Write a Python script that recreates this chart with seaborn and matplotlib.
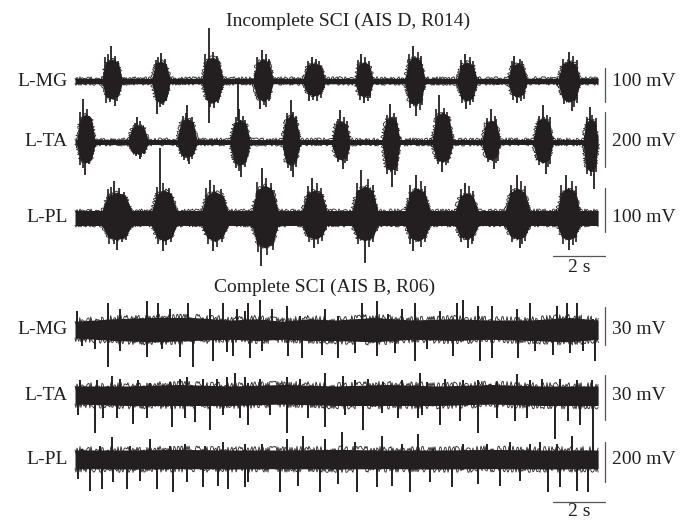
"""
EMG traces during stepping: incomplete vs complete SCI.
Values read off the published figure (time in s, amplitude in mV).
"""

import numpy as np
import pandas as pd
import matplotlib
matplotlib.use("Agg")
import matplotlib.pyplot as plt
import seaborn as sns

T_END = 20.12

# ---------------- Incomplete SCI (AIS D, R014) ----------------
# bursts: onset, offset, body amplitude above / below baseline
MG1_ON  = [1.04, 2.96, 4.88, 6.85, 8.77, 10.77, 12.69, 14.69, 16.65, 18.58]
MG1_OFF = [1.81, 3.65, 5.69, 7.62, 9.62, 11.46, 13.46, 15.46, 17.38, 19.42]
MG1_UP  = [65, 59, 71, 65, 53, 56, 71, 56, 53, 59]
MG1_DN  = [53, 65, 65, 59, 44, 47, 71, 59, 47, 62]
MG1_BASE = 8
# tallest spikes
MG1_SPK_T = [1.40, 1.55, 3.30, 3.14, 5.15, 5.15, 6.27, 7.20, 7.10, 9.10, 9.00,
             11.00, 11.10, 13.00, 13.10, 15.00, 15.05, 16.90, 17.00, 19.00, 19.10]
MG1_SPK_V = [103, -74, 82, -97, 156, -124, -118, 91, -82, 70, -59,
             79, -65, 103, -103, 79, -82, 74, -65, 85, -88]
# smaller spikes inside the bursts
MG1_FINE_T = [1.15, 1.25, 1.55, 1.65, 1.20, 1.35, 1.60,
              3.10, 3.20, 3.45, 3.25, 3.40, 3.50,
              5.00, 5.30, 5.45, 5.20, 5.35, 5.50,
              7.00, 7.35, 7.45, 7.25, 7.35, 7.45,
              8.95, 9.25, 9.40, 9.15, 9.30, 9.45,
              10.90, 11.15, 11.30, 10.95, 11.25, 11.35,
              12.85, 13.20, 13.30, 12.90, 13.25, 13.35,
              14.85, 15.20, 15.30, 14.90, 15.20, 15.30,
              16.80, 17.10, 17.20, 16.85, 17.15, 17.25,
              18.75, 19.15, 19.30, 18.80, 19.20, 19.30]
MG1_FINE_V = [70, 80, 75, 60, -65, -62, -60,
              62, 70, 65, -75, -70, -60,
              80, 85, 75, -75, -80, -65,
              70, 78, 65, -70, -75, -60,
              60, 65, 58, -55, -60, -50,
              62, 70, 60, -55, -58, -50,
              78, 85, 75, -80, -85, -70,
              62, 70, 60, -65, -70, -62,
              60, 66, 58, -55, -58, -52,
              65, 75, 62, -68, -75, -65]

TA1_ON  = [0.07, 2.04, 3.92, 5.96, 7.96, 9.88, 11.81, 13.73, 15.65, 17.62, 19.54]
TA1_OFF = [0.77, 2.81, 4.69, 6.73, 8.65, 10.58, 12.50, 14.54, 16.35, 18.38, 20.12]
TA1_UP  = [102, 62, 87, 80, 98, 76, 91, 109, 80, 87, 84]
TA1_DN  = [76, 44, 55, 84, 84, 65, 105, 73, 65, 76, 109]
TA1_BASE = 9
TA1_SPK_T = [0.30, 0.40, 2.40, 2.50, 4.30, 4.40, 6.30, 6.40, 8.30, 8.40, 10.20,
             10.30, 12.10, 12.20, 14.00, 14.10, 16.00, 16.10, 18.00, 18.10, 19.80, 19.95]
TA1_SPK_V = [156, -120, 91, -62, 135, -80, 120, -127, 153, -127, 116,
             -98, 138, -164, 171, -109, 120, -98, 135, -116, 127, -171]
TA1_FINE_T = [0.20, 0.45, 0.55, 0.20, 0.30, 0.55,
              2.30, 2.50, 2.60, 2.35, 2.55, 2.65,
              4.15, 4.25, 4.50, 4.20, 4.35, 4.50,
              6.20, 6.45, 6.55, 6.20, 6.30, 6.55,
              8.15, 8.40, 8.50, 8.20, 8.30, 8.50,
              10.10, 10.35, 10.45, 10.10, 10.40, 10.45,
              12.00, 12.25, 12.35, 12.00, 12.30, 12.40,
              13.90, 14.20, 14.30, 13.95, 14.25, 14.35,
              15.85, 16.15, 16.20, 15.90, 16.20, 16.25,
              17.85, 18.15, 18.25, 17.85, 18.20, 18.25,
              19.70, 19.90, 20.05, 19.70, 19.85, 20.05]
TA1_FINE_V = [110, 120, 95, -85, -95, -80,
              70, 75, 60, -50, -55, -45,
              95, 105, 90, -65, -70, -60,
              90, 95, 80, -95, -105, -90,
              105, 110, 95, -95, -105, -90,
              85, 90, 78, -72, -78, -68,
              100, 105, 92, -115, -120, -105,
              120, 125, 110, -80, -85, -75,
              88, 95, 82, -72, -78, -68,
              95, 100, 90, -85, -90, -80,
              92, 100, 88, -115, -125, -110]

PL1_ON  = [1.03, 2.95, 4.87, 6.80, 8.73, 10.65, 12.69, 14.62, 16.54, 18.54]
PL1_OFF = [2.18, 3.91, 5.88, 7.81, 9.69, 11.65, 13.65, 15.50, 17.50, 19.42]
PL1_UP  = [59, 64, 61, 75, 64, 73, 68, 57, 68, 68]
PL1_DN  = [50, 52, 52, 68, 48, 52, 52, 48, 48, 50]
PL1_BASE = 17
PL1_SPK_T = [1.50, 1.60, 3.27, 3.40, 5.20, 5.30, 7.20, 7.15, 9.10, 9.20,
             11.00, 11.15, 13.10, 13.00, 15.00, 15.10, 17.00, 17.10, 18.90, 19.00]
PL1_SPK_V = [84, -73, 159, -75, 86, -75, 114, -109, 91, -68,
             109, -102, 98, -75, 80, -68, 98, -68, 98, -73]
PL1_FINE_T = [1.25, 1.40, 1.70, 1.90, 1.30, 1.50, 1.80, 1.95,
              3.15, 3.40, 3.60, 3.20, 3.50, 3.70,
              5.05, 5.35, 5.60, 5.10, 5.45, 5.65,
              7.00, 7.35, 7.55, 7.05, 7.40, 7.60,
              8.95, 9.30, 9.45, 9.00, 9.35, 9.50,
              10.85, 11.25, 11.45, 10.90, 11.30, 11.45,
              12.90, 13.30, 13.45, 12.90, 13.30, 13.45,
              14.85, 15.15, 15.30, 14.85, 15.25, 15.30,
              16.75, 17.15, 17.30, 16.80, 17.20, 17.30,
              18.70, 19.10, 19.25, 18.75, 19.15, 19.25]
PL1_FINE_V = [65, 70, 68, 60, -58, -60, -55, -50,
              70, 80, 68, -60, -62, -55,
              68, 75, 65, -60, -65, -55,
              82, 90, 80, -78, -85, -72,
              72, 80, 68, -55, -60, -52,
              80, 88, 75, -60, -65, -55,
              75, 85, 72, -60, -65, -55,
              65, 72, 62, -55, -60, -52,
              75, 85, 72, -55, -60, -52,
              75, 85, 72, -58, -62, -55]

# ---------------- Complete SCI (AIS B, R06) ----------------
# tonic activity: envelope knots + prominent spikes
MG2_KT = [0, 1.5, 3, 4.5, 6, 7, 8, 9, 10, 11.5, 13, 14.5, 16, 17.5, 19, 20.12]
MG2_UP = [6, 8, 9, 9, 7, 8, 6, 8, 7, 9, 7, 8, 7, 7, 9, 7]
MG2_DN = [7, 9, 10, 9, 8, 9, 8, 9, 9, 10, 8, 9, 8, 9, 10, 8]
MG2_SPK_T = [0.07, 1.27, 1.73, 2.76, 3.19, 3.65, 4.35, 5.19, 5.69, 6.22, 6.54,
             6.65, 7.12, 7.57, 8.14, 8.65, 9.62, 10.12, 11.03, 11.60, 12.04, 12.57, 13.08,
             14.04, 14.68, 14.92, 15.50, 16.03, 16.99, 17.50, 18.53, 18.91, 19.30, 19.92,
             0.26, 0.77, 1.27, 1.73, 2.76, 3.33, 4.04, 4.54, 5.31, 5.83, 6.08,
             6.73, 7.18, 8.19, 8.72, 9.49, 10.12, 10.77, 11.60, 12.31, 13.08,
             13.53, 14.54, 15.58, 16.03, 17.04, 17.69, 18.38, 19.04, 19.54, 20.00]
MG2_SPK_V = [14, 20, 16, 22, 20, 16, 20, 16, 20, 16, 14,
             20, 23, 16, 18, 10, 16, 10, 20, 22, 12, 16, 20,
             14, 20, 23, 18, 18, 16, 20, 18, 20, 20, 8,
             -13, -16, -30, -17, -22, -16, -22, -30, -25, -18, -21,
             -23, -17, -21, -23, -20, -23, -19, -21, -19, -25,
             -16, -21, -25, -23, -23, -17, -20, -19, -17, -25]

TA2_KT = [0, 2, 4, 6, 8, 10, 12, 14, 16, 18, 20.12]
TA2_UP = [6, 6, 7, 6, 7, 6, 7, 6, 7, 6, 6]
TA2_DN = [6, 7, 7, 7, 6, 7, 7, 7, 6, 7, 7]
TA2_SPK_T = [0.19, 0.83, 1.41, 1.73, 2.42, 2.88, 3.65, 4.04, 4.30, 4.92, 5.45, 5.83, 6.15, 6.54,
             6.65, 7.12, 8.14, 8.65, 9.62, 10.31, 10.77, 11.27, 11.85, 12.57, 13.27,
             13.53, 14.23, 14.92, 15.50, 16.22, 16.99, 17.50, 17.95, 18.65, 19.30, 19.87,
             0.12, 0.77, 1.08, 1.60, 2.23, 2.76, 3.72, 4.23, 4.62, 5.19, 5.69, 6.35,
             6.65, 7.50, 8.14, 8.96, 9.62, 10.38, 11.08, 11.80, 12.42, 13.19,
             13.33, 14.04, 14.81, 15.50, 16.22, 16.92, 17.37, 18.46, 18.96, 19.42, 19.92]
TA2_SPK_V = [10, 10, 13, 11, 10, 8, 9, 11, 12, 11, 11, 12, 15, 12,
             8, 11, 12, 11, 15, 13, 10, 11, 9, 10, 15,
             9, 11, 10, 10, 9, 14, 10, 11, 11, 10, 10,
             -13, -25, -15, -15, -19, -15, -21, -15, -18, -23, -13, -15,
             -20, -13, -25, -15, -21, -13, -23, -12, -15, -15,
             -13, -20, -17, -25, -15, -17, -15, -29, -17, -20, -31]

PL2_KT = [0, 2, 4, 6, 8, 10, 12, 14, 16, 18, 20.12]
PL2_UP = [45, 45, 48, 45, 45, 48, 45, 45, 48, 45, 45]
PL2_DN = [48, 50, 48, 50, 48, 50, 48, 50, 48, 50, 48]
PL2_SPK_T = [0.26, 0.96, 1.41, 2.12, 2.88, 3.65, 4.23, 5.00, 5.69, 6.54,
             7.18, 8.14, 8.77, 9.62, 10.26, 10.77, 11.80, 12.57, 13.19,
             13.77, 14.92, 15.83, 16.73, 17.50, 17.88, 18.53, 19.10, 19.92,
             0.12, 0.58, 1.03, 1.46, 1.99, 2.50, 3.14, 3.77, 4.30, 4.92, 5.50, 5.88, 6.54,
             6.65, 7.88, 8.58, 9.42, 10.12, 10.83, 11.60, 12.18, 12.88,
             13.65, 14.49, 15.50, 16.35, 17.12, 18.19, 18.65, 19.30, 19.73]
PL2_SPK_V = [50, 65, 110, 65, 100, 65, 75, 65, 85, 75,
             75, 100, 115, 100, 135, 85, 115, 75, 125,
             50, 75, 75, 85, 75, 85, 75, 115, 85,
             -100, -160, -150, -115, -150, -110, -150, -165, -115, -140, -135, -150, -140,
             -115, -165, -135, -165, -125, -165, -140, -135, -165,
             -115, -140, -125, -135, -110, -165, -140, -160, -165]

MUSCLES = ["L-MG", "L-TA", "L-PL"]
SCALE1 = [100, 200, 100]   # mV
SCALE2 = [30, 30, 200]     # mV

# ---------------- layout (figure pixels, 26 px per second) ----------------
PX_S = 26.0
X0 = 75.0
BASE1 = [81, 142, 218]
BASE2 = [329, 395, 459]
GAIN1 = [0.34, 0.275, 0.44]   # px per mV
GAIN2 = [1.28, 1.5, 0.2]
BAR1_C = [85, 139.5, 210]
BAR2_C = [326, 397.5, 461.7]
INK = "#231f20"


def t_of(px):
    return (px - X0) / PX_S


def burst_envelope(on, off, up, dn, base):
    t, u, d = [0.0], [base], [base]
    for a, b, hu, hd in zip(on, off, up, dn):
        w = b - a
        t += [a, a + 0.2 * w, 0.5 * (a + b), b - 0.2 * w, b]
        u += [base, 0.85 * hu, hu, 0.85 * hu, base]
        d += [base, 0.85 * hd, hd, 0.85 * hd, base]
    if t[-1] < T_END:
        t.append(T_END)
        u.append(base)
        d.append(base)
    return np.array(t), np.array(u), np.array(d)


def ragged_edge(ax, t, y, fringe, lw=0.7):
    df = pd.DataFrame({"t": t, "y": y})
    sns.lineplot(data=df, x="t", y="y", ax=ax, color=INK, lw=lw,
                 estimator=None, sort=False, legend=False)
    ax.lines[-1].set_sketch_params(scale=fringe, length=1.0, randomness=4)


def spikes(ax, t, v, y0, g, lw):
    v = np.asarray(v, dtype=float)
    ax.vlines(np.asarray(t), y0, y0 - g * v, color=INK, lw=lw)


sns.set_theme(style="white")
plt.rcParams["font.family"] = ["Liberation Serif", "DejaVu Serif"]

fig = plt.figure(figsize=(6.8, 5.21), dpi=100)
ax = fig.add_axes([0, 0, 1, 1])
ax.set_xlim(t_of(0), t_of(680))
ax.set_ylim(521, 0)
ax.axis("off")

incomplete = [
    (MG1_ON, MG1_OFF, MG1_UP, MG1_DN, MG1_BASE, MG1_SPK_T, MG1_SPK_V, MG1_FINE_T, MG1_FINE_V),
    (TA1_ON, TA1_OFF, TA1_UP, TA1_DN, TA1_BASE, TA1_SPK_T, TA1_SPK_V, TA1_FINE_T, TA1_FINE_V),
    (PL1_ON, PL1_OFF, PL1_UP, PL1_DN, PL1_BASE, PL1_SPK_T, PL1_SPK_V, PL1_FINE_T, PL1_FINE_V),
]
complete = [
    (MG2_KT, MG2_UP, MG2_DN, MG2_SPK_T, MG2_SPK_V),
    (TA2_KT, TA2_UP, TA2_DN, TA2_SPK_T, TA2_SPK_V),
    (PL2_KT, PL2_UP, PL2_DN, PL2_SPK_T, PL2_SPK_V),
]

fs = 14
for i, (on, off, up, dn, base, st, sv, ft, fv) in enumerate(incomplete):
    y0, g = BASE1[i], GAIN1[i]
    t, u, d = burst_envelope(on, off, up, dn, base)
    top, bot = y0 - g * u, y0 + g * d
    ax.fill_between(t, top, bot, color=INK, lw=0)
    ragged_edge(ax, t, top, 1.6, lw=0.6)
    ragged_edge(ax, t, bot, 1.6, lw=0.6)
    spikes(ax, ft, fv, y0, g, lw=1.2)
    spikes(ax, st, sv, y0, g, lw=1.3)

for i, (kt, up, dn, st, sv) in enumerate(complete):
    y0, g = BASE2[i], GAIN2[i]
    top = y0 - g * np.array(up, float)
    bot = y0 + g * np.array(dn, float)
    ax.fill_between(kt, top, bot, color=INK, lw=0)
    ragged_edge(ax, kt, top, 3.5, lw=0.6)
    ragged_edge(ax, kt, bot, 3.5, lw=0.6)
    spikes(ax, st, sv, y0, g, lw=1.4)

# labels and scale bars
x_bar = t_of(605)
for base, centre, gain, mv in [(BASE1, BAR1_C, GAIN1, SCALE1), (BASE2, BAR2_C, GAIN2, SCALE2)]:
    for i, name in enumerate(MUSCLES):
        ax.text(t_of(68), base[i], name, ha="right", va="center", fontsize=fs, color=INK)
        half = 0.5 * mv[i] * gain[i]
        ax.plot([x_bar, x_bar], [centre[i] - half, centre[i] + half], color="#555555", lw=0.9)
        ax.text(t_of(612), base[i], f"{mv[i]} mV", ha="left", va="center", fontsize=fs, color=INK)

for y_bar, y_txt in [(256, 267), (502, 512)]:
    ax.plot([t_of(553), x_bar], [y_bar, y_bar], color="#555555", lw=0.9)
    ax.text(t_of(579), y_txt, "2 s", ha="center", va="center", fontsize=fs, color=INK)

ax.text(t_of(348), 26, "Incomplete SCI (AIS D, R014)", ha="center", va="baseline",
        fontsize=fs, color=INK)
ax.text(t_of(325), 291.5, "Complete SCI (AIS B, R06)", ha="center", va="baseline",
        fontsize=fs, color=INK)

fig.savefig("out.png", dpi=100)
